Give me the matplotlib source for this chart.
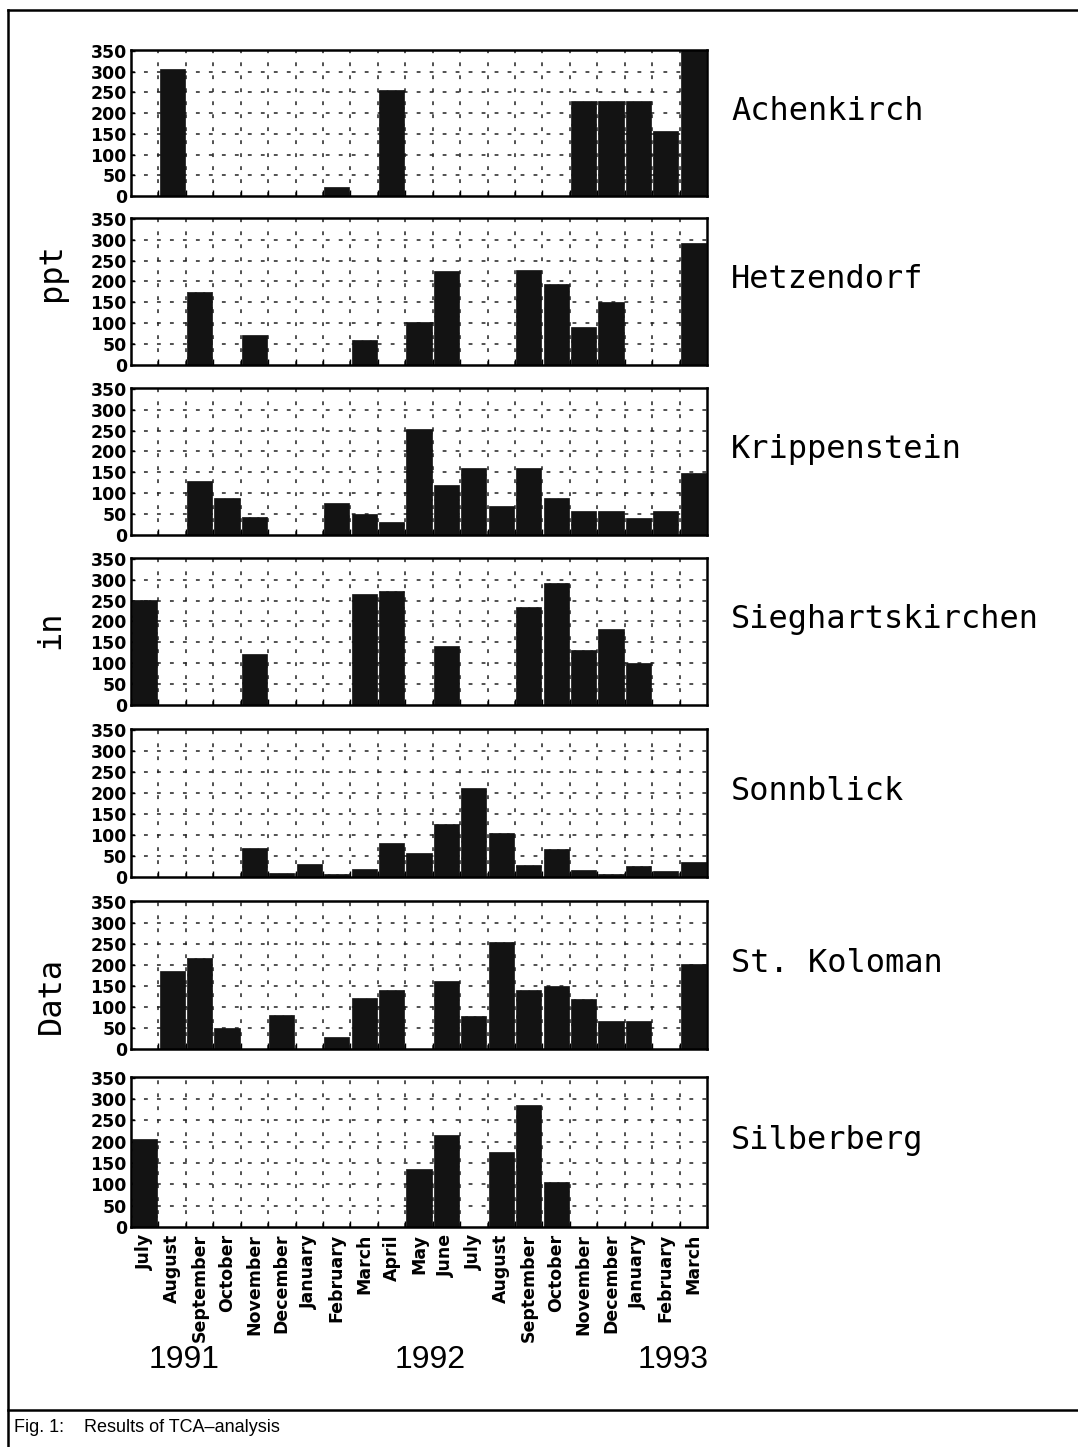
import matplotlib
matplotlib.use("Agg")
import matplotlib.pyplot as plt
from matplotlib import font_manager

# ---------------- data ----------------
months = ["July", "August", "September", "October", "November", "December",
          "January", "February", "March", "April", "May", "June", "July",
          "August", "September", "October", "November", "December",
          "January", "February", "March"]
years = ["1991", "1992", "1993"]
stations = ["Achenkirch", "Hetzendorf", "Krippenstein", "Sieghartskirchen",
            "Sonnblick", "St. Koloman", "Silberberg"]
yticks = [0, 50, 100, 150, 200, 250, 300, 350]

achenkirch = [0, 305, 0, 0, 0, 0, 0, 22, 0, 255, 0, 0, 0, 0, 0, 0, 228, 228, 228, 156, 365]
hetzendorf = [0, 0, 174, 0, 71, 0, 0, 0, 61, 0, 102, 225, 0, 0, 227, 194, 92, 152, 0, 0, 291]
krippenstein = [0, 0, 130, 89, 42, 0, 0, 77, 51, 30, 255, 119, 160, 69, 160, 88, 58, 58, 40, 57, 148]
sieghartskirchen = [252, 0, 0, 0, 122, 0, 0, 0, 265, 273, 0, 142, 0, 0, 234, 293, 132, 183, 100, 0, 0]
sonnblick = [0, 0, 0, 0, 69, 10, 31, 8, 19, 80, 58, 127, 211, 105, 28, 66, 16, 6, 26, 15, 36]
st_koloman = [0, 185, 217, 50, 0, 82, 0, 29, 121, 141, 0, 161, 79, 255, 141, 149, 119, 66, 66, 0, 202]
silberberg = [207, 0, 0, 0, 0, 0, 0, 0, 0, 0, 137, 216, 0, 177, 287, 105, 0, 0, 0, 0, 0]
series = [achenkirch, hetzendorf, krippenstein, sieghartskirchen,
          sonnblick, st_koloman, silberberg]

# ---------------- fonts ----------------
avail = {f.name for f in font_manager.fontManager.ttflist}
narrow = "Liberation Sans Narrow" if "Liberation Sans Narrow" in avail else "Liberation Sans"
mono = "DejaVu Sans Mono"

plt.rcParams["hatch.color"] = "#5a5a5a"
plt.rcParams["hatch.linewidth"] = 0.8

W, H = 1078, 1447
fig = plt.figure(figsize=(W / 100, H / 100), dpi=100)

left_px, right_px = 131, 707
tops = [50, 218, 388, 558, 729, 901, 1077]
bottoms = [196, 365, 535, 705, 877, 1049, 1227]

x = list(range(len(months)))
for i, (vals, name) in enumerate(zip(series, stations)):
    t, b = tops[i], bottoms[i]
    ax = fig.add_axes([left_px / W, 1 - b / H, (right_px - left_px) / W, (b - t) / H])
    ax.set_xlim(-0.5, len(months) - 0.5)
    ax.set_ylim(0, 352)
    # grid
    for gx in [k + 0.5 for k in range(len(months) - 1)]:
        ax.axvline(gx, color="#222222", lw=1.1, ls=(0, (2.5, 6)), zorder=0)
    for gy in yticks[1:-1]:
        ax.axhline(gy, color="#222222", lw=1.1, ls=(0, (2.5, 6)), zorder=0)
    ax.bar(x, vals, width=0.92, color="#131313", edgecolor="#131313",
           hatch="..", linewidth=0.5, zorder=2)
    ax.set_yticks(yticks)
    ax.set_yticklabels([str(v) for v in yticks], fontsize=12.5, fontweight="bold",
                       family="DejaVu Sans")
    ax.tick_params(axis="y", direction="in", length=3, width=1, pad=3)
    ax.set_xticks([k + 0.5 for k in range(len(months) - 1)])
    ax.set_xticklabels([])
    ax.tick_params(axis="x", direction="in", length=4, width=1)
    if i == len(series) - 1:
        ax.set_xticks(x, minor=True)
        ax.set_xticklabels(months, minor=True, rotation=90, fontsize=12.5,
                           fontweight="bold", family="DejaVu Sans", va="top", ha="center")
        ax.tick_params(axis="x", which="minor", length=0, pad=5)
    for sp in ax.spines.values():
        sp.set_linewidth(1.8)
    fig.text(731 / W, 1 - (b - 0.58 * (b - t)) / H, name, fontsize=23,
             family=mono, ha="left", va="center")

# y axis label pieces
fig.text(51 / W, 1 - 272 / H, "ppt", rotation=90, fontsize=23, family=mono,
         ha="center", va="center")
fig.text(51 / W, 1 - 630 / H, "in", rotation=90, fontsize=23, family=mono,
         ha="center", va="center")
fig.text(51 / W, 1 - 995 / H, "Data", rotation=90, fontsize=23, family=mono,
         ha="center", va="center")

# years
for yr, cx in zip(years, [184, 430, 673]):
    fig.text(cx / W, 1 - 1360 / H, yr, fontsize=23, family=narrow,
             ha="center", va="center")

# frame lines
fig.add_artist(plt.Line2D([8 / W, 8 / W], [1 - 10 / H, 0], color="black",
                          lw=1.8, transform=fig.transFigure))
fig.add_artist(plt.Line2D([8 / W, 1], [1 - 10 / H, 1 - 10 / H], color="black",
                          lw=1.8, transform=fig.transFigure))
fig.add_artist(plt.Line2D([8 / W, 1], [1 - 1410 / H, 1 - 1410 / H], color="black",
                          lw=1.8, transform=fig.transFigure))

# caption
fig.text(14 / W, 1 - 1427 / H, "Fig. 1:", fontsize=13, family="Liberation Sans",
         ha="left", va="center")
fig.text(84 / W, 1 - 1427 / H, "Results of TCA\u2013analysis", fontsize=13,
         family="Liberation Sans", ha="left", va="center")

fig.savefig("out.png", dpi=100, facecolor="white")
